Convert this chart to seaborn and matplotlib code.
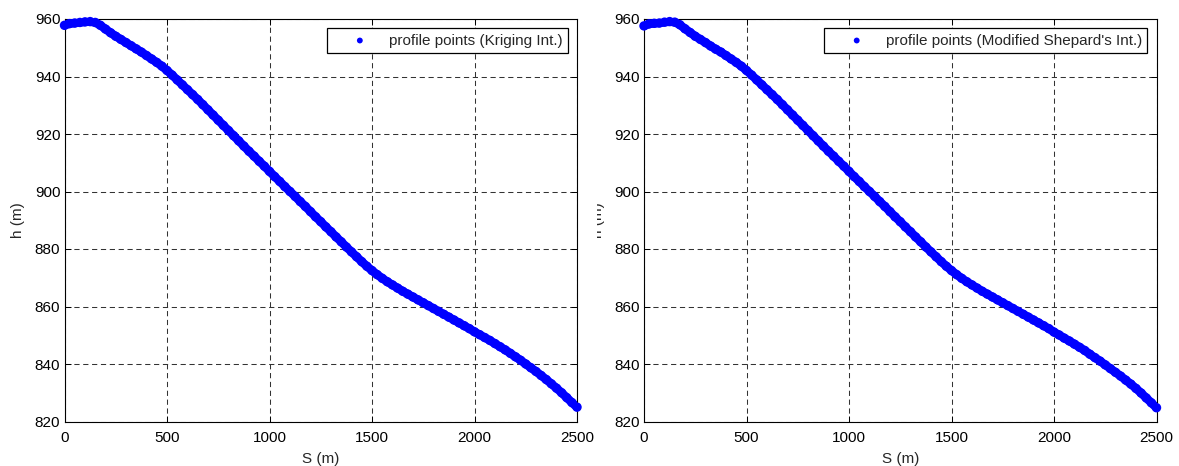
import numpy as np
import pandas as pd
import matplotlib
matplotlib.use("Agg")
import matplotlib.pyplot as plt
import seaborn as sns
from matplotlib.transforms import Bbox, TransformedBbox

# ---------------- data ----------------
s_m = list(range(0, 2501, 25))

h_kriging = [
    957.8, 958.4, 958.6, 958.8, 959.0, 959.1, 958.8, 957.8, 956.5, 955.2,
    954.0, 952.9, 951.8, 950.7, 949.6, 948.5, 947.3, 946.1, 944.9, 943.6,
    942.1, 940.5, 938.8, 937.1, 935.4, 933.7, 932.0, 930.2, 928.4, 926.6,
    924.8, 923.0, 921.2, 919.4, 917.6, 915.8, 914.0, 912.3, 910.5, 908.8,
    907.0, 905.2, 903.5, 901.7, 900.0, 898.3, 896.5, 894.8, 893.0, 891.2,
    889.5, 887.7, 886.0, 884.2, 882.5, 880.7, 879.0, 877.3, 875.6, 874.0,
    872.5, 871.1, 869.8, 868.6, 867.5, 866.4, 865.3, 864.3, 863.3, 862.3,
    861.3, 860.3, 859.3, 858.3, 857.3, 856.3, 855.3, 854.3, 853.3, 852.3,
    851.2, 850.2, 849.2, 848.2, 847.1, 846.0, 844.9, 843.7, 842.5, 841.3,
    840.0, 838.7, 837.4, 836.0, 834.6, 833.1, 831.6, 830.0, 828.3, 826.6,
    825.0,
]

h_shepard = [
    957.6, 958.3, 958.5, 958.6, 958.9, 959.1, 958.9, 958.0, 956.6, 955.3,
    954.0, 952.9, 951.8, 950.6, 949.5, 948.5, 947.3, 946.1, 944.9, 943.6,
    942.1, 940.5, 938.8, 937.1, 935.4, 933.7, 932.0, 930.2, 928.4, 926.6,
    924.8, 923.0, 921.2, 919.4, 917.6, 915.8, 914.0, 912.3, 910.5, 908.8,
    907.0, 905.2, 903.5, 901.7, 900.0, 898.3, 896.5, 894.8, 893.0, 891.2,
    889.5, 887.7, 886.0, 884.2, 882.5, 880.7, 879.0, 877.3, 875.6, 874.0,
    872.5, 871.1, 869.8, 868.6, 867.5, 866.4, 865.3, 864.3, 863.3, 862.3,
    861.3, 860.3, 859.3, 858.3, 857.3, 856.3, 855.3, 854.3, 853.3, 852.3,
    851.1, 850.1, 849.0, 848.0, 846.9, 845.8, 844.7, 843.4, 842.2, 841.0,
    839.7, 838.4, 837.1, 835.8, 834.4, 833.0, 831.5, 829.9, 828.2, 826.5,
    824.8,
]

x_ticks = [0, 500, 1000, 1500, 2000, 2500]
y_ticks = [820, 840, 860, 880, 900, 920, 940, 960]
legend_labels = ["profile points (Kriging Int.)", "profile points (Modified Shepard's Int.)"]
x_label = "S (m)"
y_label = "h (m)"

# ---------------- style ----------------
sns.set_theme(style="white")
plt.rcParams["font.family"] = ["Liberation Sans", "DejaVu Sans"]
plt.rcParams["font.size"] = 11

fig = plt.figure(figsize=(11.79, 4.66), dpi=100)
W, H = 1179, 466
ax_bottom = 1 - 421.5 / H
ax_height = (421.5 - 19.0) / H
ax1 = fig.add_axes([64.5 / W, ax_bottom, (577 - 64.5) / W, ax_height])
ax2 = fig.add_axes([644 / W, ax_bottom, (1156.5 - 644) / W, ax_height])

BLUE = "#0000ff"
for ax, h, lab in [(ax1, h_kriging, legend_labels[0]), (ax2, h_shepard, legend_labels[1])]:
    df = pd.DataFrame({"S": s_m, "h": h})
    # dense profile points drawn as a thick trace plus the point markers
    sns.lineplot(data=df, x="S", y="h", ax=ax, color=BLUE, linewidth=6.2,
                 solid_capstyle="round", solid_joinstyle="round", zorder=3,
                 legend=False, clip_on=True)
    sns.scatterplot(data=df, x="S", y="h", ax=ax, color=BLUE, s=46,
                    linewidth=0, edgecolor="none", label=lab, zorder=4, clip_on=False)
    ax.set_xlim(0, 2500)
    ax.set_ylim(820, 960)
    ax.set_xticks(x_ticks)
    ax.set_yticks(y_ticks)
    ax.set_xticklabels([str(v) for v in x_ticks])
    ax.set_yticklabels([str(v) for v in y_ticks])
    ax.grid(True, color="0.2", linestyle=(0, (5, 3.5)), linewidth=0.75, zorder=0)
    ax.set_axisbelow(True)
    for sp in ax.spines.values():
        sp.set_visible(True)
        sp.set_color("black")
        sp.set_linewidth(0.8)
    ax.tick_params(axis="both", direction="in", length=4, width=0.7, colors="black",
                   top=True, right=True, bottom=True, left=True, labelsize=11)
    ax.tick_params(axis="x", pad=7)
    ax.tick_params(axis="y", pad=3)
    ax.set_xlabel(x_label, fontsize=11, labelpad=5)
    ax.set_ylabel(y_label, fontsize=11, labelpad=7)
    leg = ax.legend(loc="upper right", frameon=True, fancybox=False, framealpha=1,
                    edgecolor="black", fontsize=11, handlelength=3.6, handletextpad=0.1,
                    borderaxespad=0.6, borderpad=0.35, markerscale=0.62)
    leg.get_frame().set_linewidth(0.9)

# right y-label is partly hidden in the reference
lbl = ax2.yaxis.label
clip = TransformedBbox(Bbox([[597.5 / W, 0], [1, 1]]), fig.transFigure)
lbl.set_clip_box(clip)
lbl.set_clip_on(True)

fig.savefig("out.png", dpi=100, facecolor="white")
